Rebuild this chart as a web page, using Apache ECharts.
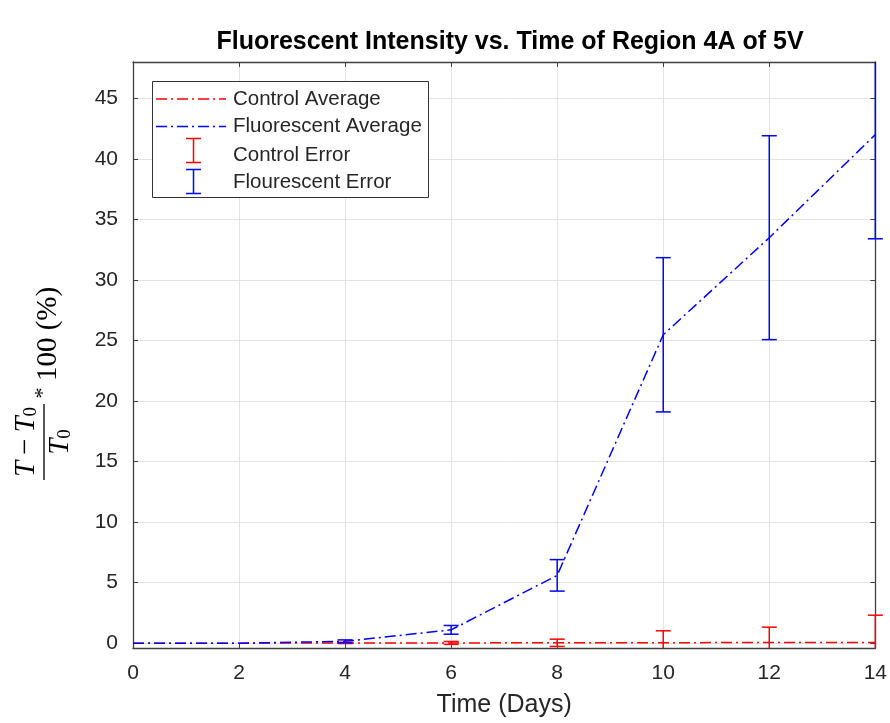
<!DOCTYPE html>
<html>
<head>
<meta charset="utf-8">
<script src="https://cdn.jsdelivr.net/npm/echarts@6/dist/echarts.min.js"></script>
<style>
  html, body { margin: 0; padding: 0; background: #fff; }
  #chart { width: 890px; height: 723px; }
</style>
</head>
<body>
<div id="chart"></div>
<script>
// Measurement days
const days = [0, 2, 4, 6, 8, 10, 12, 14];
// Mean percent change, (T - T0) / T0 * 100
const controlAvg = [0, 0, 0.02, 0.02, 0.03, 0.04, 0.05, 0.05];
const fluorAvg = [0, 0, 0.15, 1.1, 5.6, 25.47, 33.49, 42.0];
// Error half-widths (no bars for the first two days)
const controlErr = [null, null, 0.05, 0.12, 0.3, 0.98, 1.27, 2.26];
const fluorErr = [null, null, 0.12, 0.36, 1.3, 6.37, 8.42, 8.6];
// Axis ticks
const xTicks = [0, 2, 4, 6, 8, 10, 12, 14];
const yTicks = [0, 5, 10, 15, 20, 25, 30, 35, 40, 45];
// Legend entries
const legendNames = ['Control Average', 'Fluorescent Average', 'Control Error', 'Flourescent Error'];

const axisColor = '#404040';
const textColor = '#262626';
const gridColor = '#e3e3e3';
const red = '#ff0000';
const blue = '#0000ff';
const dashDot = [11, 4, 2, 4];
const sans = 'Liberation Sans, Arial, sans-serif';
const serif = 'Liberation Serif, serif';

const chart = echarts.init(document.getElementById('chart'), null, { renderer: 'canvas' });

function lineData(avg) {
  return days.map((d, i) => [d, avg[i]]);
}
function errData(avg, err) {
  const out = [];
  days.forEach((d, i) => {
    if (err[i] != null) out.push([d, avg[i] - err[i], avg[i] + err[i]]);
  });
  return out;
}

// Vertical error bar with end caps, clipped to the plot in y only
function errorBarRenderer(color) {
  return function (params, api) {
    const cs = params.coordSys;
    const yTop = cs.y, yBot = cs.y + cs.height;
    const lo = api.coord([api.value(0), api.value(1)]);
    const hi = api.coord([api.value(0), api.value(2)]);
    const x = lo[0];
    const capHalf = 7.5;
    const y1 = Math.min(Math.max(hi[1], yTop), yBot);
    const y2 = Math.min(Math.max(lo[1], yTop), yBot);
    const style = { stroke: color, lineWidth: 1.5, fill: null };
    const children = [
      { type: 'line', shape: { x1: x, y1: y1, x2: x, y2: y2 }, style: style }
    ];
    if (hi[1] >= yTop - 0.5) {
      children.push({ type: 'line', shape: { x1: x - capHalf, y1: hi[1], x2: x + capHalf, y2: hi[1] }, style: style });
    }
    if (lo[1] <= yBot + 0.5) {
      children.push({ type: 'line', shape: { x1: x - capHalf, y1: lo[1], x2: x + capHalf, y2: lo[1] }, style: style });
    }
    return { type: 'group', children: children };
  };
}

// Legend box: dash-dot samples for the averages, I-beams for the errors
function legendGraphic() {
  const left = 152.5, top = 81.5, w = 276, h = 116;
  const rows = [99, 126.5, 155, 182];
  const beamCenters = [null, null, 150.5, 181.5];
  const colors = [red, blue, red, blue];
  const Z = 100;
  const children = [
    { type: 'rect', z: Z, shape: { x: left, y: top, width: w, height: h },
      style: { fill: '#ffffff', stroke: '#333333', lineWidth: 1 } }
  ];
  rows.forEach((ry, i) => {
    const c = colors[i];
    if (i < 2) {
      children.push({ type: 'line', z: Z + 1, shape: { x1: 156, y1: ry, x2: 226, y2: ry },
        style: { stroke: c, lineWidth: 1.5, lineDash: dashDot } });
    } else {
      const cx = 193.5, cy = beamCenters[i];
      const st = { stroke: c, lineWidth: 1.5 };
      children.push({ type: 'line', z: Z + 1, shape: { x1: cx, y1: cy - 12, x2: cx, y2: cy + 12 }, style: st });
      children.push({ type: 'line', z: Z + 1, shape: { x1: cx - 7.5, y1: cy - 12, x2: cx + 7.5, y2: cy - 12 }, style: st });
      children.push({ type: 'line', z: Z + 1, shape: { x1: cx - 7.5, y1: cy + 12, x2: cx + 7.5, y2: cy + 12 }, style: st });
    }
    children.push({ type: 'text', z: Z + 1, x: 233, y: ry,
      style: { text: legendNames[i], fontFamily: sans, fontSize: 20.5, fill: textColor, verticalAlign: 'middle', align: 'left' } });
  });
  return { type: 'group', z: Z, children: children };
}

const option = {
  backgroundColor: '#ffffff',
  animation: false,
  title: {
    text: 'Fluorescent Intensity vs. Time of Region 4A of 5V',
    left: 505,
    textAlign: 'center',
    top: 25,
    textStyle: { fontFamily: sans, fontWeight: 'bold', fontSize: 25, color: '#000' }
  },
  grid: { left: 133, top: 62, width: 744, height: 586, containLabel: false },
  xAxis: [
    {
      type: 'value', min: 0, max: 14, interval: 2,
      axisLine: { show: true, onZero: false, lineStyle: { color: axisColor, width: 1.3 } },
      axisTick: { show: true, inside: true, length: 5, lineStyle: { color: axisColor } },
      axisLabel: {
        margin: 15, fontSize: 21, color: textColor, fontFamily: sans,
        formatter: v => (xTicks.indexOf(v) >= 0 ? String(v) : '')
      },
      splitLine: { show: true, lineStyle: { color: gridColor, width: 1 } },
      name: 'Time (Days)', nameLocation: 'middle', nameGap: 45,
      nameTextStyle: { fontSize: 25, color: textColor, fontFamily: sans }
    },
    {
      type: 'value', position: 'top', min: 0, max: 14, interval: 2,
      axisLine: { show: true, onZero: false, lineStyle: { color: axisColor, width: 1.3 } },
      axisTick: { show: true, inside: true, length: 5, lineStyle: { color: axisColor } },
      axisLabel: { show: false }, splitLine: { show: false }
    }
  ],
  yAxis: [
    {
      type: 'value', min: -0.4, max: 48, splitNumber: 10,
      axisLine: { show: true, onZero: false, lineStyle: { color: axisColor, width: 1.3 } },
      axisTick: { show: true, inside: true, length: 5, lineStyle: { color: axisColor } },
      axisLabel: {
        margin: 15, fontSize: 21, color: textColor, fontFamily: sans,
        showMinLabel: false, showMaxLabel: false,
        formatter: v => (yTicks.indexOf(v) >= 0 ? String(v) : '')
      },
      splitLine: { show: true, lineStyle: { color: gridColor, width: 1 } }
    },
    {
      type: 'value', position: 'right', min: -0.4, max: 48, splitNumber: 10,
      axisLine: { show: true, onZero: false, lineStyle: { color: axisColor, width: 1.3 } },
      axisTick: { show: true, inside: true, length: 5, lineStyle: { color: axisColor } },
      axisLabel: { show: false }, splitLine: { show: false }
    }
  ],
  graphic: [
    {
      // y-axis label: (T - T0) / T0 * 100 (%), reading bottom to top
      type: 'group',
      x: 44, y: 480,
      rotation: Math.PI / 2,
      children: [
        { type: 'line', shape: { x1: 0, y1: 0, x2: 76, y2: 0 }, style: { stroke: '#000', lineWidth: 1.3 } },
        {
          type: 'text', x: 38, y: -3,
          style: {
            text: '{t|T}{op|−}{t|T}{s|0}',
            align: 'center', verticalAlign: 'bottom',
            rich: {
              t: { fontFamily: serif, fontStyle: 'italic', fontSize: 29, fill: '#000' },
              op: { fontFamily: serif, fontSize: 29, fill: '#000', padding: [0, 6, 0, 6] },
              s: { fontFamily: serif, fontSize: 19, fill: '#000', padding: [10, 0, 0, 0] }
            }
          }
        },
        {
          type: 'text', x: 38, y: 2,
          style: {
            text: '{t|T}{s|0}',
            align: 'center', verticalAlign: 'top',
            rich: {
              t: { fontFamily: serif, fontStyle: 'italic', fontSize: 29, fill: '#000' },
              s: { fontFamily: serif, fontSize: 19, fill: '#000', padding: [10, 0, 0, 0] }
            }
          }
        },
        {
          type: 'text', x: 87, y: -1,
          style: { text: '*', align: 'center', verticalAlign: 'middle', fontFamily: serif, fontSize: 22, fill: '#000' }
        },
        {
          type: 'text', x: 146, y: 4,
          style: { text: '100 (%)', align: 'center', verticalAlign: 'middle', fontFamily: serif, fontSize: 29, fill: '#000' }
        }
      ]
    },
    legendGraphic()
  ],
  series: [
    {
      name: 'Control Average', type: 'line', data: lineData(controlAvg),
      symbol: 'none', showSymbol: false, z: 3,
      itemStyle: { color: red },
      lineStyle: { color: red, width: 1.5, type: dashDot }
    },
    {
      name: 'Fluorescent Average', type: 'line', data: lineData(fluorAvg),
      symbol: 'none', showSymbol: false, z: 4,
      itemStyle: { color: blue },
      lineStyle: { color: blue, width: 1.5, type: dashDot }
    },
    {
      name: 'Control Error', type: 'custom', data: errData(controlAvg, controlErr),
      renderItem: errorBarRenderer(red), clip: false, z: 5,
      itemStyle: { color: red },
      encode: { x: 0, y: [1, 2] }
    },
    {
      name: 'Flourescent Error', type: 'custom', data: errData(fluorAvg, fluorErr),
      renderItem: errorBarRenderer(blue), clip: false, z: 6,
      itemStyle: { color: blue },
      encode: { x: 0, y: [1, 2] }
    }
  ]
};

chart.setOption(option);
</script>
</body>
</html>
